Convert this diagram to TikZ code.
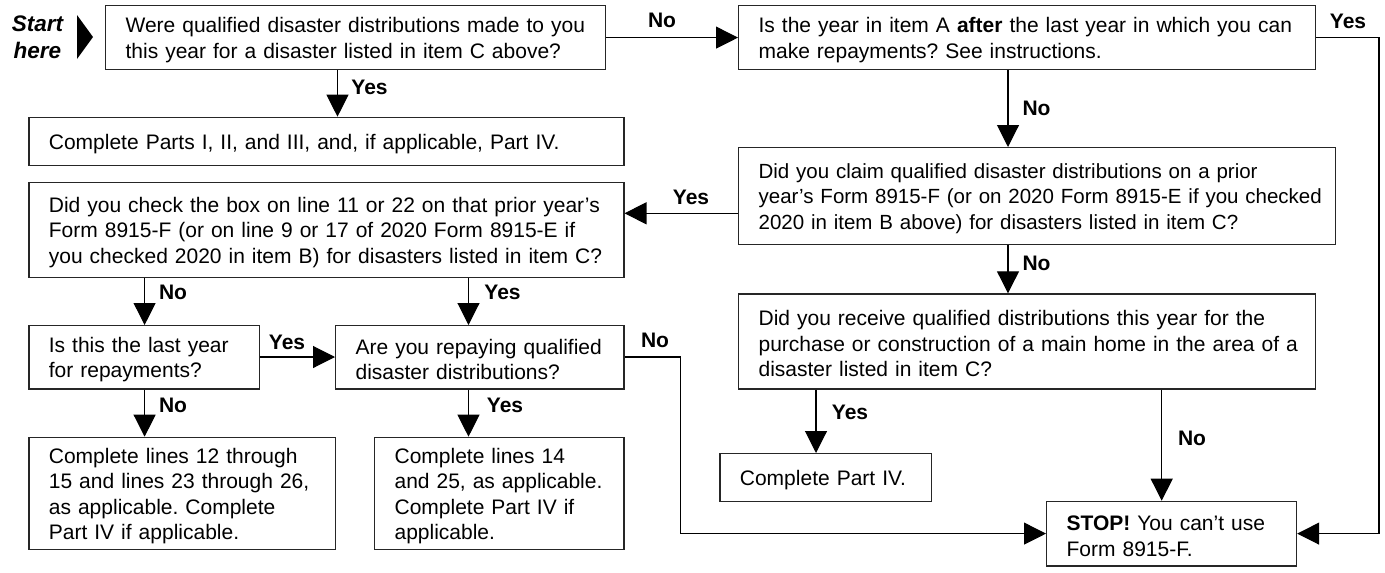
\documentclass[tikz,border=0pt]{standalone}
\usepackage{fontspec}
\setmainfont{Liberation Sans}
\usetikzlibrary{arrows.meta}
\frenchspacing

\begin{document}
\begin{tikzpicture}[x=1pt, y=-1pt,
		every node/.style={font=\fontsize{21}{25.5}\selectfont},
		box/.style={draw=black!85, line width=1.2pt, anchor=north west, align=left,
	inner xsep=20pt, inner ysep=0pt, execute at begin node={\rightskip=0pt plus 1fil minus 60pt\rule{0pt}{20pt}}},
		lbl/.style={font=\fontsize{21}{25.5}\selectfont\bfseries, inner sep=0pt},
		arr/.style={draw, line width=1.1pt, -{Triangle[length=22pt, width=22pt]}}]
			\useasboundingbox (0,0) rectangle (1385,573);
			\node[font=\fontsize{22.5}{26.6}\selectfont\bfseries\itshape, align=center] (start) at (37.5,37) {Start\\here};
			\fill (77,15) -- (93,37) -- (77,59) -- cycle;
			% questions
			\node[box, text width=460pt, minimum height=64pt] (q1) at (105,5) {Were qualified disaster distributions made to you\\this year for a disaster listed in item C above?};
			\node[box, text width=537pt, minimum height=64pt] (q2) at (738,5) {Is the year in item A \textbf{after} the last year in which you can\\make repayments? See instructions.};
			\node[box, text width=557pt, minimum height=97pt, font=\fontsize{20.5}{25.5}\selectfont] (q3) at (738,147) {Did you claim qualified disaster distributions on a prior\\year’s Form 8915-F (or on 2020 Form 8915-E if you checked\\2020 in item B above) for disasters listed in item C?};
			\node[box, text width=555pt, minimum height=95pt] (q4) at (28.3,181.7) {Did you check the box on line 11 or 22 on that prior year’s\\Form 8915-F (or on line 9 or 17 of 2020 Form 8915-E if\\you checked 2020 in item B) for disasters listed in item C?};
			\node[box, text width=537pt, minimum height=95pt] (q5) at (738,293.3) {Did you receive qualified distributions this year for the\\purchase or construction of a main home in the area of a\\disaster listed in item C?};
			\node[box, text width=190.7pt, minimum height=63.3pt] (q6) at (28.3,325) {Is this the last year\\for repayments?};
			\node[box, text width=248.3pt, minimum height=63.3pt] (q7) at (335,325) {Are you repaying qualified\\disaster distributions?};
			% answers
			\node[box, text width=555pt, minimum height=48.3pt] (a1) at (28.3,116.7) {Complete Parts I, II, and III, and, if applicable, Part IV.};
			\node[box, text width=266.7pt, minimum height=112.3pt] (a2) at (28.3,436.7) {Complete lines 12 through\\15 and lines 23 through 26,\\as applicable. Complete\\Part IV if applicable.};
			\node[box, text width=209.3pt, minimum height=112.3pt] (a3) at (374,436.7) {Complete lines 14\\and 25, as applicable.\\Complete Part IV if\\applicable.};
			\node[box, text width=171.7pt, minimum height=47.7pt] (a4) at (719.3,453) {Complete Part IV.};
			\node[box, text width=210pt, minimum height=64.6pt] (stop) at (1046,500.7) {\textbf{STOP!} You can’t use\\Form 8915-F.};
			% connectors
			\draw[arr] (q1) -- (q2);
			\draw[arr] (q1.south -| 337.5,0) -- (a1.north -| 337.5,0);
			\draw[arr] (q2.south -| 1008,0) -- (q3.north -| 1008,0);
			\draw[arr] (q2.east) -- (q2.east -| 1379,0) |- (stop.east);
			\draw[arr] (q3.west |- 0,213.3) -- (q4.east |- 0,213.3);
			\draw[arr] (q3.south -| 1008,0) -- (q5.north -| 1008,0);
			\draw[arr] (q4.south -| 144.6,0) -- (q6.north -| 144.6,0);
			\draw[arr] (q4.south -| 468.5,0) -- (q7.north -| 468.5,0);
			\draw[arr] (q6.east |- 0,357) -- (q7.west |- 0,357);
			\draw[arr] (q7.east |- 0,357) -- (680.5,357) |- (stop.west);
			\draw[arr] (q6.south -| 144.6,0) -- (a2.north -| 144.6,0);
			\draw[arr] (q7.south -| 468.5,0) -- (a3.north -| 468.5,0);
			\draw[arr] (q5.south -| 816,0) -- (a4.north -| 816,0);
			\draw[arr] (q5.south -| 1161.7,0) -- (stop.north -| 1161.7,0);
			% answer labels
			\node[lbl] (n1) at (662,20.5) {No};
			\node[lbl] (y1) at (369.5,87.5) {Yes};
			\node[lbl] (y2) at (1348,21) {Yes};
			\node[lbl] (n2) at (1036.5,108.5) {No};
			\node[lbl] (y3) at (691,197) {Yes};
			\node[lbl] (n3) at (1036.5,263) {No};
			\node[lbl] (n4) at (173,292.5) {No};
			\node[lbl] (y4) at (502.5,292.5) {Yes};
			\node[lbl] (y5) at (287,342) {Yes};
			\node[lbl] (n5) at (655,340.5) {No};
			\node[lbl] (n6) at (173,405) {No};
			\node[lbl] (y6) at (505,405) {Yes};
			\node[lbl] (y7) at (850,412) {Yes};
			\node[lbl] (n7) at (1192,438) {No};
		\end{tikzpicture}
\end{document}
